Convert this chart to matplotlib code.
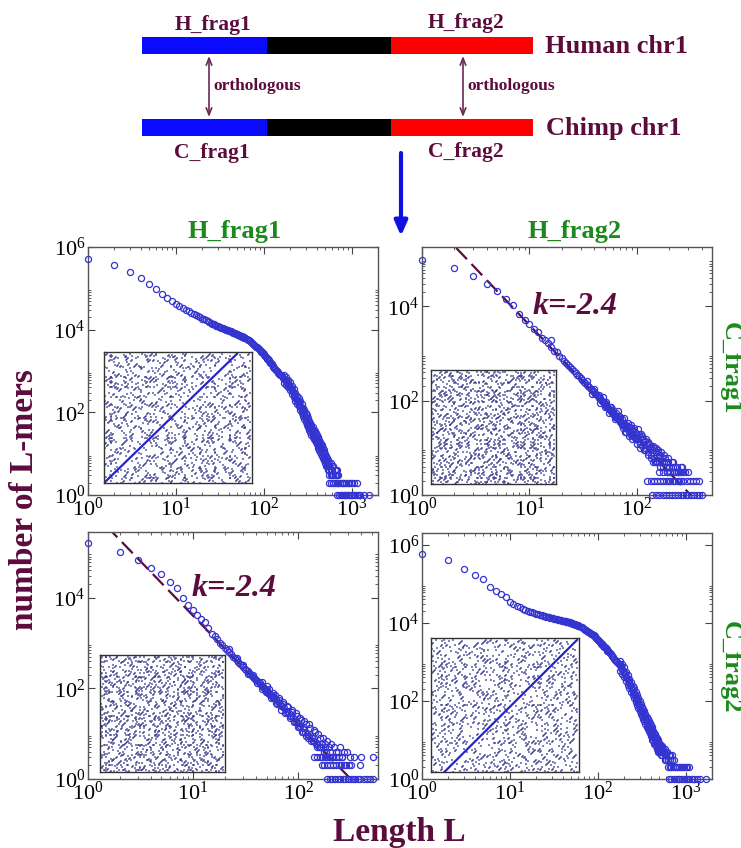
import numpy as np
import matplotlib
matplotlib.use('Agg')
import matplotlib.pyplot as plt
from matplotlib.ticker import LogLocator, FixedLocator, LogFormatterMathtext, NullFormatter

W, H = 741, 848

plt.rcParams['font.family'] = ['Liberation Serif', 'DejaVu Serif']
plt.rcParams['mathtext.fontset'] = 'custom'
plt.rcParams['mathtext.rm'] = 'Liberation Serif'
plt.rcParams['mathtext.it'] = 'Liberation Serif:italic'
plt.rcParams['mathtext.bf'] = 'Liberation Serif:bold'

MAROON = '#5c0c3c'
GREEN = '#1b8a1b'
MARK = '#3434d0'

# ---- data: (length L, number of L-mers) ----
# H_frag1 vs C_frag1 (top left)
TL_CURVE = [
    (1, 520000), (2, 360000), (3, 250000), (4, 180000), (5, 130000), (6, 96000), (7, 74000),
    (8, 60000), (9, 49000), (10, 42000), (11, 37000), (12, 33500), (13, 30500), (14, 28000),
    (15, 26000), (16, 24000), (17, 22500), (18, 21000), (19, 19800), (20, 18600), (21, 17700),
    (22, 16800), (23, 16000), (24, 15300), (25, 14600), (26, 14000), (27, 13500), (28, 13000),
    (29, 12500), (30, 12000), (31, 11700), (32, 11300), (33, 11000), (34, 10700), (35, 10400),
    (36, 10200), (37, 10000), (38, 9800), (39, 9600), (40, 9500), (41, 9300), (42, 9100),
    (43, 8900), (44, 8700), (45, 8500), (46, 8300), (47, 8150), (48, 8000), (49, 7850),
    (50, 7700), (51, 7550), (52, 7400), (53, 7250), (54, 7100), (55, 7000), (56, 6900),
    (57, 6750), (58, 6600), (59, 6500), (60, 6400), (62, 6150), (64, 5950), (66, 5750),
    (68, 5500), (70, 5200), (72, 4950), (74, 4700), (76, 4500), (78, 4300), (80, 4100),
    (82, 3900), (84, 3750), (86, 3600), (88, 3450), (90, 3250), (92, 3100), (94, 2950),
    (96, 2850), (98, 2750), (100, 2650), (102, 2500), (104, 2350), (106, 2200), (108, 2100),
    (110, 2000), (112, 1900), (114, 1800), (116, 1700), (118, 1600), (120, 1530), (123, 1450),
    (126, 1330), (129, 1240), (132, 1180), (135, 1100), (138, 1050), (141, 1000), (144, 950),
    (147, 900), (150, 860), (154, 820), (158, 780), (162, 740), (166, 690), (170, 650),
    (174, 610), (178, 580), (182, 550), (186, 520), (190, 490), (195, 450), (200, 420),
    (205, 380), (210, 345), (215, 310), (220, 280), (225, 255), (230, 235), (235, 215),
    (240, 200), (245, 188), (250, 178), (255, 160), (260, 145), (265, 130), (270, 120),
    (275, 110), (280, 100), (285, 93), (290, 87), (295, 81), (300, 76), (306, 69), (312, 62),
    (318, 56), (324, 51), (330, 48), (336, 45), (342, 42), (348, 38), (354, 35), (360, 33),
    (366, 30), (372, 28), (378, 27), (384, 26), (390, 25), (396, 23), (402, 22), (408, 20),
    (414, 19), (420, 18), (428, 16), (436, 15), (444, 14), (452, 13), (460, 12), (470, 11),
    (480, 9), (490, 8), (500, 8), (510, 7), (520, 6), (530, 6), (540, 5), (550, 5), (560, 4),
    (580, 4), (600, 4)]
TL_SPREAD = [
    (170, 800), (170, 520), (180, 700), (180, 450), (190, 610), (190, 400), (200, 530),
    (200, 340), (210, 440), (210, 280), (220, 360), (220, 230), (230, 300), (230, 190),
    (240, 255), (240, 160), (250, 225), (250, 140), (260, 185), (260, 115), (270, 155),
    (270, 95), (280, 130), (280, 80), (290, 112), (290, 70), (300, 98), (300, 60), (310, 85),
    (310, 50), (320, 72), (320, 43), (330, 62), (330, 38), (340, 55), (340, 33), (350, 49),
    (350, 29), (360, 43), (360, 26), (370, 38), (370, 23), (380, 35), (380, 21), (390, 32),
    (390, 19), (400, 29), (400, 17), (410, 26), (410, 15), (420, 24), (420, 14), (430, 21),
    (430, 12), (440, 19), (440, 11), (450, 17), (450, 10), (460, 16), (460, 9), (470, 14),
    (470, 8), (480, 12), (480, 7), (490, 11), (490, 7), (500, 10), (500, 6), (515, 9),
    (515, 5), (530, 8), (530, 5), (545, 7), (545, 4), (560, 6), (580, 6), (600, 5), (620, 5),
    (640, 4), (660, 4), (690, 4)]
TL_THREES = [560, 580, 600, 620, 640, 660, 680, 700]
TL_TWOS = [560, 590, 620, 650, 680, 710, 740, 770, 800, 830, 860, 900, 940, 980, 1020,
           1080, 1150]
TL_ONES = [690, 720, 750, 780, 810, 840, 870, 900, 940, 980, 1020, 1060, 1100, 1150, 1200,
           1260, 1400, 1600]

# H_frag2 vs C_frag1 (top right)
TR_CURVE = [
    (1, 94000), (2, 65000), (3, 44000), (4, 30000), (5, 21000), (6, 14500), (7, 10500),
    (8, 7000), (9, 5000), (10, 4300), (11, 3300), (12, 2800), (13, 2100), (14, 1900),
    (15, 1650), (16, 1400), (16, 1900), (17, 1150), (18, 1050), (19, 880), (20, 800),
    (21, 700), (22, 640), (23, 560), (24, 520), (25, 470), (26, 430), (27, 380), (28, 350),
    (29, 330), (30, 300), (31, 270), (32, 250), (33, 240), (34, 215), (35, 200), (36, 190),
    (37, 175), (38, 170), (39, 160), (40, 150), (41, 140), (42, 135), (43, 125), (44, 115),
    (45, 112), (46, 105), (47, 100), (48, 95), (49, 90), (50, 88), (51, 84), (52, 78),
    (53, 74), (54, 70), (55, 66), (56, 62), (57, 63), (58, 60), (59, 55), (60, 52), (61, 51),
    (62, 50), (63, 46), (64, 44), (65, 44), (66, 48), (67, 40), (68, 38), (69, 37), (70, 36),
    (71, 35), (72, 40), (73, 33), (74, 30), (75, 31), (76, 34), (77, 29), (78, 27), (79, 28),
    (80, 30), (82, 26), (83, 24), (85, 23), (86, 20), (88, 21), (89, 26), (91, 19), (92, 18),
    (94, 18), (95, 22), (97, 17), (98, 15), (99, 15), (100, 19), (104, 14), (108, 17),
    (112, 11), (116, 13), (120, 9), (124, 12), (128, 8), (132, 10), (136, 7), (140, 9),
    (145, 6), (150, 8), (155, 5), (160, 7), (165, 4), (170, 6), (178, 5), (185, 4), (195, 5),
    (205, 3), (215, 4), (230, 3), (245, 2)]
TR_SPREAD = [
    (34, 260), (38, 140), (40, 180), (44, 130), (45, 90), (48, 120), (50, 75), (52, 95),
    (55, 55), (56, 72), (58, 75), (60, 62), (62, 40), (64, 55), (66, 60), (68, 48), (70, 44),
    (72, 30), (74, 26), (76, 42), (78, 22), (80, 22), (82, 34), (84, 18), (86, 28), (88, 30),
    (90, 15), (92, 24), (94, 26), (96, 16), (100, 12), (102, 25), (104, 20), (106, 12),
    (108, 10), (110, 20), (112, 18), (114, 15), (116, 9), (118, 10), (120, 14), (122, 15),
    (126, 7), (128, 13), (130, 12), (134, 6), (136, 11), (140, 5), (142, 11), (144, 10),
    (148, 5), (150, 5), (152, 10), (156, 8), (158, 9), (162, 5), (164, 7), (168, 8), (172, 5),
    (175, 4), (180, 7), (182, 6), (188, 5), (190, 3), (196, 6), (198, 4), (200, 4), (210, 5),
    (218, 5), (225, 4), (235, 4), (240, 3), (250, 3), (260, 4), (265, 4), (280, 3), (300, 3)]
TR_THREES = [160, 175, 190, 205, 220, 240, 255, 270]
TR_TWOS = [125, 135, 145, 155, 165, 175, 185, 195, 205, 215, 225, 240, 255, 270, 290, 310,
           330, 355, 375]
TR_ONES = [137, 150, 162, 175, 188, 200, 212, 225, 240, 255, 270, 285, 300, 320, 340, 360,
           380, 400]

# H_frag1 vs C_frag2 (bottom left)
BL_CURVE = [
    (1, 160000), (2, 100000), (3, 69000), (4, 46000), (5, 33000), (6, 22000), (7, 16000),
    (8, 10000), (9, 6800), (10, 5300), (11, 4200), (12, 3400), (13, 2900), (14, 2100),
    (15, 1600), (16, 1400), (17, 1200), (18, 1000), (19, 900), (20, 780), (21, 700),
    (22, 640), (23, 580), (24, 500), (25, 460), (26, 420), (27, 390), (28, 350), (29, 320),
    (30, 290), (31, 270), (32, 250), (33, 235), (34, 220), (35, 205), (36, 190), (37, 180),
    (38, 165), (39, 158), (40, 150), (41, 143), (42, 135), (43, 128), (44, 120), (45, 112),
    (46, 105), (47, 101), (48, 98), (49, 94), (50, 90), (51, 85), (52, 80), (53, 76),
    (54, 74), (55, 72), (56, 67), (57, 65), (58, 62), (59, 60), (61, 58), (64, 50), (67, 46),
    (70, 40), (74, 36), (78, 32), (82, 28), (86, 25), (90, 22), (95, 19), (100, 17),
    (105, 15), (110, 13), (116, 11), (122, 10), (128, 9), (135, 8), (142, 7), (150, 6),
    (158, 5), (166, 5), (175, 4), (185, 4), (195, 3), (210, 3)]
BL_SPREAD = [
    (22, 720), (26, 470), (30, 330), (33, 210), (37, 200), (41, 130), (45, 140), (45, 95),
    (49, 85), (50, 110), (53, 95), (55, 60), (57, 68), (58, 78), (60, 70), (62, 48), (63, 44),
    (65, 62), (66, 55), (68, 40), (69, 34), (71, 50), (72, 44), (75, 28), (76, 30), (79, 40),
    (80, 38), (83, 22), (84, 24), (87, 34), (88, 30), (91, 18), (92, 19), (95, 28), (97, 25),
    (99, 14), (102, 14), (104, 22), (107, 20), (109, 11), (112, 11), (114, 19), (118, 16),
    (120, 9), (124, 8), (126, 16), (130, 13), (133, 7), (138, 7), (140, 12), (145, 11),
    (148, 6), (152, 5), (155, 10), (160, 8), (163, 5), (170, 6), (172, 8), (180, 5), (182, 6),
    (190, 7), (195, 5), (200, 4), (205, 6), (220, 5), (230, 4), (240, 4), (250, 5), (260, 3),
    (270, 4), (290, 4), (310, 3), (340, 3)]
BL_THREES = [140, 150, 160, 170, 180, 190, 200, 215, 230, 245, 260, 400, 520]
BL_TWOS = [167, 178, 190, 202, 215, 228, 242, 256, 272, 288, 305, 320, 385]
BL_ONES = [189, 200, 212, 225, 238, 252, 266, 282, 298, 315, 332, 350, 370, 390, 420, 450,
           480, 520]

# H_frag2 vs C_frag2 (bottom right)
BR_CURVE = [
    (1, 590000), (2, 400000), (3, 245000), (4, 166000), (5, 129000), (6, 83000), (7, 66000),
    (8, 54000), (9, 45000), (10, 35000), (11, 30000), (12, 27000), (13, 25000), (14, 23000),
    (15, 21500), (16, 20200), (17, 19200), (18, 18400), (19, 17600), (20, 17000), (21, 16500),
    (22, 16000), (23, 15600), (24, 15200), (25, 14800), (26, 14500), (27, 14100), (28, 13800),
    (29, 13500), (30, 13200), (31, 12950), (32, 12700), (33, 12500), (34, 12300), (35, 12100),
    (36, 11900), (37, 11750), (38, 11600), (39, 11450), (40, 11300), (41, 11150), (42, 11000),
    (43, 10900), (44, 10800), (45, 10700), (46, 10550), (47, 10400), (48, 10250), (49, 10100),
    (50, 9900), (51, 9750), (52, 9600), (53, 9450), (54, 9300), (55, 9200), (56, 9050),
    (57, 8900), (58, 8750), (59, 8600), (60, 8500), (62, 8200), (64, 7900), (66, 7600),
    (68, 7300), (70, 7000), (72, 6700), (74, 6450), (76, 6200), (78, 5950), (80, 5700),
    (82, 5500), (84, 5300), (86, 5150), (88, 5000), (90, 4900), (92, 4600), (94, 4350),
    (96, 4100), (98, 3900), (100, 3700), (102, 3550), (104, 3400), (106, 3200), (108, 3050),
    (110, 2950), (112, 2800), (114, 2700), (116, 2600), (118, 2450), (120, 2350), (123, 2250),
    (126, 2100), (129, 1950), (132, 1850), (135, 1750), (138, 1650), (141, 1550), (144, 1450),
    (147, 1380), (150, 1300), (154, 1220), (158, 1140), (162, 1080), (166, 1020), (170, 950),
    (174, 880), (178, 820), (182, 770), (186, 710), (190, 650), (195, 590), (200, 540),
    (205, 480), (210, 420), (215, 380), (220, 340), (225, 310), (230, 280), (235, 255),
    (240, 230), (245, 205), (250, 185), (255, 170), (260, 158), (265, 140), (270, 125),
    (275, 115), (280, 105), (285, 96), (290, 88), (295, 80), (300, 73), (306, 66), (312, 60),
    (318, 55), (324, 50), (330, 46), (336, 42), (342, 38), (348, 35), (354, 32), (360, 29),
    (366, 27), (372, 25), (378, 23), (384, 21), (390, 20), (396, 19), (402, 17), (408, 16),
    (414, 15), (420, 14), (428, 13), (436, 12), (444, 11), (452, 10), (460, 9), (470, 8),
    (480, 8), (490, 7), (500, 6), (510, 6), (520, 6), (530, 5), (540, 5), (555, 5), (570, 5),
    (585, 4), (600, 4), (630, 3)]
BR_SPREAD = [
    (180, 1050), (180, 600), (190, 870), (190, 490), (200, 720), (200, 400), (210, 560),
    (210, 315), (220, 450), (220, 255), (230, 370), (230, 210), (240, 305), (240, 170),
    (250, 245), (250, 140), (260, 210), (260, 118), (270, 166), (270, 94), (280, 140),
    (280, 79), (290, 117), (290, 66), (300, 97), (300, 55), (310, 83), (310, 47), (320, 70),
    (320, 40), (330, 61), (330, 35), (340, 54), (340, 30), (350, 46), (350, 26), (360, 39),
    (360, 22), (370, 34), (370, 19), (380, 30), (380, 17), (390, 27), (390, 15), (400, 24),
    (400, 13), (410, 21), (410, 12), (420, 19), (420, 10), (430, 17), (430, 10), (440, 15),
    (440, 8), (450, 14), (450, 8), (460, 12), (460, 7), (470, 11), (470, 6), (480, 10),
    (480, 6), (490, 9), (490, 5), (500, 8), (500, 5), (515, 8), (515, 5), (530, 7), (530, 4),
    (545, 7), (545, 4), (560, 6), (580, 6), (600, 5), (620, 5), (640, 4), (660, 4), (700, 4)]
BR_THREES = [580, 600, 630, 660, 700, 740]
BR_TWOS = [630, 660, 690, 720, 760, 800, 840, 880, 920, 960, 1000, 1050, 1100]
BR_ONES = [650, 690, 730, 770, 810, 850, 900, 950, 1000, 1050, 1100, 1170, 1250, 1350,
           1450, 1700]

# power-law fit shown on the non-orthologous pairs
FIT_K = -2.4
FIT_A = 1.0e6
FIT_RANGE = (1.5, 330)

# short stand-in sequences for the inset dot plots
H1 = ("ATGCTTAGCAGGTCATCGATTGCAAGTCCTAGGATCCATGACTTGCAG"
      "TAGCTAGGCTTACGATCGTTAGCATGCAAGTCGGATCTAGCTTGACCAT"
      "GGTACGATCAGTTCAGCTAGCATCGGTAACTGATCCGTAGTCAAGCTTG"
      "CATCGATGGCTA")
H2 = ("GGATTCACGTTAGCCATAGGCTTCAAGTCGATGCCTAGTAACGGTCTAG"
      "ATCCGATTGCATGGCAATCTGCTAGGTTCAGCATCTAGGACTTGCCATG"
      "ATCGGTACCTAGTCAGTAGCGATTCCAGTTAGCATGCGATACGTTGACC"
      "TAGATGCA")
C1 = H1[:144]
C2 = H2[14:]
WORD = 2

Y_MAJOR = [1, 1e2, 1e4, 1e6]
Y_MINOR = [m * 10.0 ** e for e in (0, 2, 4) for m in range(2, 10)]


def px_box(left, top, right, bottom):
    return [left / W, 1 - bottom / H, (right - left) / W, (bottom - top) / H]


def kmer_hits(sx, sy, k):
    hx, hy = [], []
    for i in range(len(sx) - k + 1):
        for j in range(len(sy) - k + 1):
            if sx[i:i + k] == sy[j:j + k]:
                hx.append(i)
                hy.append(j)
    return np.array(hx), np.array(hy)


def style_axes(ax, xmax, ymax):
    ax.set_xscale('log')
    ax.set_yscale('log')
    ax.set_xlim(1, xmax)
    ax.set_ylim(1, ymax)
    ax.xaxis.set_major_locator(LogLocator(base=10, numticks=10))
    ax.xaxis.set_minor_locator(LogLocator(base=10, subs=np.arange(2, 10), numticks=20))
    ax.yaxis.set_major_locator(FixedLocator(Y_MAJOR))
    ax.yaxis.set_minor_locator(FixedLocator(Y_MINOR))
    ax.xaxis.set_major_formatter(LogFormatterMathtext())
    ax.yaxis.set_major_formatter(LogFormatterMathtext())
    ax.xaxis.set_minor_formatter(NullFormatter())
    ax.yaxis.set_minor_formatter(NullFormatter())
    ax.tick_params(which='both', direction='in', top=True, right=True,
                   colors='#444444', labelcolor='black', labelsize=16)
    ax.tick_params(which='major', length=5, width=0.8, pad=2)
    ax.tick_params(which='minor', length=2.5, width=0.6)
    for s in ax.spines.values():
        s.set_color('#555555')
        s.set_linewidth(1.0)


def draw_panel(box, xmax, ymax, curve, spread, ones, twos, threes, fit=False):
    ax = fig.add_axes(px_box(*box))
    style_axes(ax, xmax, ymax)
    if fit:
        lf = np.geomspace(*FIT_RANGE, 60)
        ax.plot(lf, FIT_A * lf ** FIT_K, color=MAROON, lw=1.6, dashes=(7, 3), zorder=2)
    L, N = zip(*(curve + spread))
    xs = list(L) + ones + twos + threes
    ys = list(N) + [1] * len(ones) + [2] * len(twos) + [3] * len(threes)
    ax.plot(xs, ys, 'o', mfc='none', mec=MARK, ms=4.4, mew=0.9, clip_on=False, zorder=3)
    return ax


def draw_inset(box, sx, sy, shift=None):
    ax = fig.add_axes(px_box(*box), zorder=5)
    hx, hy = kmer_hits(sx, sy, WORD)
    dot = dict(s=0.9, marker='s', color='#303088', alpha=0.6, linewidths=0)
    if shift is not None:
        on = (hx - hy) == shift
        ax.scatter(hx[~on], hy[~on], **dot)
        ax.plot(hx[on], hy[on], color='#2424c8', lw=1.6)
    else:
        ax.scatter(hx, hy, **dot)
    ax.set_xlim(0, len(sx))
    ax.set_ylim(0, len(sy))
    ax.set_xticks([])
    ax.set_yticks([])
    for s in ax.spines.values():
        s.set_color('#333333')
        s.set_linewidth(1.0)
    return ax


fig = plt.figure(figsize=(W / 100, H / 100), dpi=100)

draw_panel((88, 247, 378, 495), 2000, 1e6, TL_CURVE, TL_SPREAD, TL_ONES, TL_TWOS, TL_THREES)
draw_panel((422, 247, 712, 495), 500, 1.8e5, TR_CURVE, TR_SPREAD, TR_ONES, TR_TWOS,
           TR_THREES, fit=True)
draw_panel((88, 532, 378, 779), 575, 2.8e5, BL_CURVE, BL_SPREAD, BL_ONES, BL_TWOS,
           BL_THREES, fit=True)
draw_panel((422, 533, 712, 779), 2000, 2e6, BR_CURVE, BR_SPREAD, BR_ONES, BR_TWOS, BR_THREES)

draw_inset((104, 352, 252, 483), H1, C1, shift=0)
draw_inset((431, 370, 556, 484), H2, C1)
draw_inset((100, 655, 225, 772), H1, C2)
draw_inset((431, 638, 579, 772), H2, C2, shift=14)

# overlay in pixel coordinates for the schematic and the labels
ov = fig.add_axes([0, 0, 1, 1], zorder=10)
ov.set_xlim(0, W)
ov.set_ylim(H, 0)
ov.axis('off')

# chromosome schematic
SEG_EDGES = [142, 267, 391, 533]
SEG_COLORS = ['#0a0aff', '#000000', '#ff0000']
for top in (37, 119):
    for i, c in enumerate(SEG_COLORS):
        ov.add_patch(plt.Rectangle((SEG_EDGES[i], top), SEG_EDGES[i + 1] - SEG_EDGES[i], 17,
                                   facecolor=c, edgecolor='none'))

bold = dict(weight='bold', color=MAROON)
ov.text(213, 30, 'H_frag1', ha='center', va='baseline', size=15.5, **bold)
ov.text(466, 28, 'H_frag2', ha='center', va='baseline', size=15.5, **bold)
ov.text(212, 158, 'C_frag1', ha='center', va='baseline', size=15.5, **bold)
ov.text(466, 157, 'C_frag2', ha='center', va='baseline', size=15.5, **bold)
ov.text(545, 53, 'Human chr1', ha='left', va='baseline', size=19, **bold)
ov.text(546, 135, 'Chimp chr1', ha='left', va='baseline', size=19, **bold)

for x in (209, 463):
    ov.annotate('', xy=(x, 56), xytext=(x, 117),
                arrowprops=dict(arrowstyle='<->,head_length=0.5,head_width=0.2',
                                color='#6a2a5a', lw=1.2, mutation_scale=10,
                                shrinkA=0, shrinkB=0))
ov.text(213, 86, 'orthologous', ha='left', va='center', size=12.5, **bold)
ov.text(467, 86, 'orthologous', ha='left', va='center', size=12.5, **bold)

ov.annotate('', xy=(401, 236), xytext=(401, 153),
            arrowprops=dict(arrowstyle='-|>,head_length=0.8,head_width=0.35',
                            color='#1010e0', lw=3, mutation_scale=11,
                            shrinkA=0, shrinkB=0))

# panel labels
ov.text(235, 238, 'H_frag1', ha='center', va='baseline', size=19, weight='bold', color=GREEN)
ov.text(575, 238, 'H_frag2', ha='center', va='baseline', size=19, weight='bold', color=GREEN)
ov.text(730, 368, 'C_frag1', ha='center', va='center', rotation=270, size=19,
        weight='bold', color=GREEN)
ov.text(730, 667, 'C_frag2', ha='center', va='center', rotation=270, size=19,
        weight='bold', color=GREEN)

ov.text(575, 307, 'k=-2.4', ha='center', va='center', size=23, weight='bold',
        style='italic', color=MAROON)
ov.text(234, 588, 'k=-2.4', ha='center', va='center', size=23, weight='bold',
        style='italic', color=MAROON)

ov.text(25, 500, 'number of L-mers', ha='center', va='center', rotation=90, size=24, **bold)
ov.text(399, 833, 'Length L', ha='center', va='center', size=24, **bold)

fig.savefig('out.png', dpi=100)
